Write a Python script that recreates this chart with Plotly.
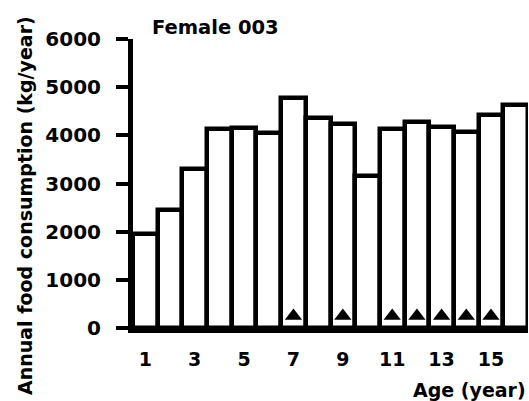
import plotly.graph_objects as go

# ---- data ----
ages = [1, 2, 3, 4, 5, 6, 7, 8, 9, 10, 11, 12, 13, 14, 15, 16]
consumption = [1950, 2450, 3300, 4130, 4150, 4040, 4780, 4360, 4240, 3160,
               4130, 4280, 4170, 4070, 4420, 4630]
marked_ages = [7, 9, 11, 12, 13, 14, 15]
marker_level = [250, 250, 250, 250, 250, 250, 250]
x_tickvals = [1, 3, 5, 7, 9, 11, 13, 15]
y_tickvals = [0, 1000, 2000, 3000, 4000, 5000, 6000]
y_range = [0, 6000]
title_text = "Female 003"
x_title = "Age (year)"
y_title = "Annual food consumption (kg/year)"

FONT = "DejaVu Sans"

fig = go.Figure()
fig.add_trace(go.Bar(
    x=ages, y=consumption,
    marker=dict(color="white", line=dict(color="black", width=4.5)),
    width=1.0, showlegend=False, hoverinfo="skip",
))
fig.add_trace(go.Scatter(
    x=marked_ages, y=marker_level, mode="markers", yaxis="y2",
    marker=dict(symbol="triangle-up", size=15, color="black"),
    showlegend=False, cliponaxis=False, hoverinfo="skip",
))

fig.update_layout(
    width=529, height=401,
    margin=dict(l=133, r=1, t=39, b=73),
    paper_bgcolor="white", plot_bgcolor="white",
    bargap=0,
    font=dict(family=FONT, color="black"),
    xaxis=dict(
        range=[0.5, 16.5], showgrid=False, zeroline=False,
        showline=True, linewidth=5, linecolor="black",
        tickmode="array", tickvals=x_tickvals,
        ticks="", ticklabelstandoff=10,
        tickfont=dict(family=FONT, size=19, weight="bold", color="black"),
    ),
    # axis carrying the line and the short black ticks
    yaxis=dict(
        range=y_range, showgrid=False, zeroline=False,
        showline=True, linewidth=5, linecolor="black",
        tickmode="array", tickvals=y_tickvals, showticklabels=False,
        ticks="outside", ticklen=12, tickwidth=4, tickcolor="black",
    ),
    # overlaid axis carrying the tick labels, set further out
    yaxis2=dict(
        overlaying="y", side="left", range=y_range,
        showgrid=False, zeroline=False, showline=False,
        tickmode="array", tickvals=y_tickvals,
        ticks="outside", ticklen=27, tickwidth=1,
        tickcolor="rgba(0,0,0,0)",
        tickfont=dict(family=FONT, size=20, weight="bold", color="black"),
    ),
    annotations=[
        dict(text=title_text, xref="paper", yref="paper",
             x=(150 - 133) / 395, y=(328 - 27) / 289,
             xanchor="left", yanchor="middle", showarrow=False,
             font=dict(family=FONT, size=19.5, weight="bold", color="black")),
        dict(text=x_title, xref="paper", yref="paper",
             x=1.0, y=(328 - 390) / 289,
             xanchor="right", yanchor="middle", showarrow=False,
             font=dict(family=FONT, size=19, weight="bold", color="black")),
        dict(text=y_title, xref="paper", yref="paper",
             x=(25 - 133) / 395, y=(328 - 206) / 289, textangle=-90,
             xanchor="center", yanchor="middle", showarrow=False,
             font=dict(family=FONT, size=19, weight="bold", color="black")),
    ],
)

fig.write_html(
    "out.html",
    config={"displayModeBar": False},
    post_script="document.body.style.margin='0';document.body.style.padding='0';",
)
